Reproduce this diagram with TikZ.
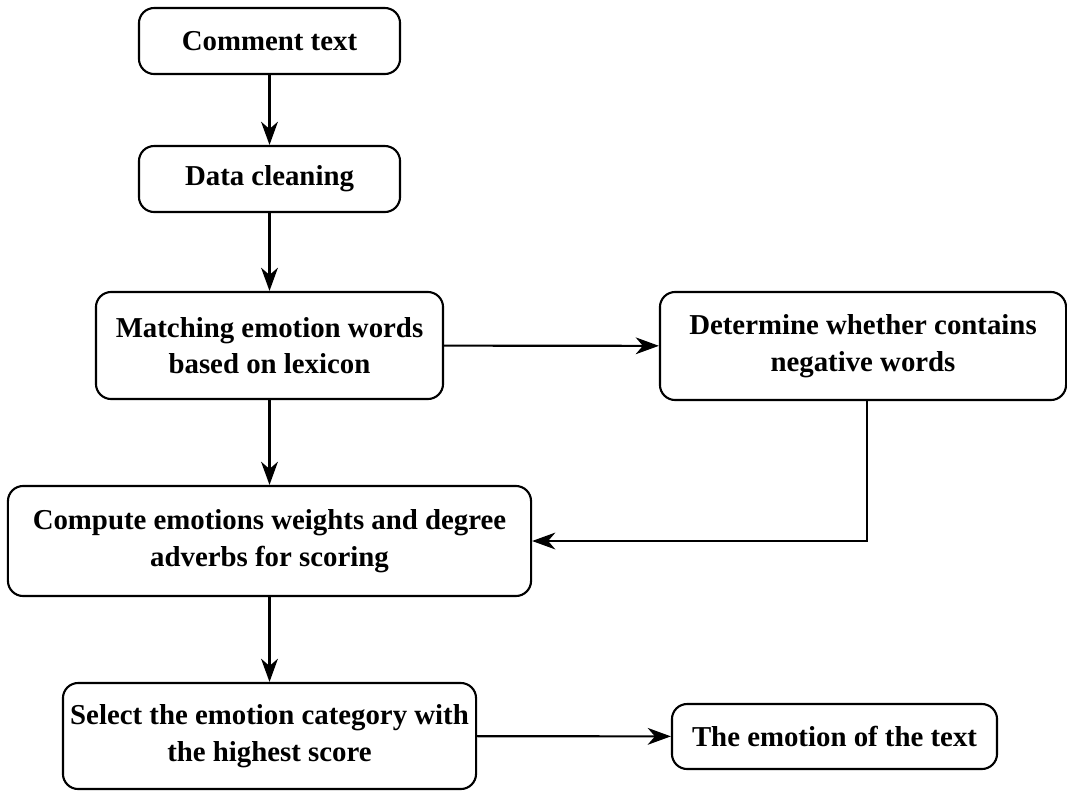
\documentclass[tikz,border=0pt]{standalone}
\usepackage{fontspec}
\setmainfont{Liberation Serif}
\usetikzlibrary{arrows.meta}

\begin{document}
\begin{tikzpicture}[x=0.025cm, y=-0.025cm,
        box/.style={draw, line width=1.5pt, rounded corners=0.38cm, align=center, inner sep=0pt,
            font=\fontsize{20.5}{26}\selectfont\bfseries},
        arr/.style={line width=1.5pt, -{Stealth[length=5.8mm, width=4.2mm, inset=1.8mm]}}]
                \useasboundingbox (0,0) rectangle (1067,791);
                \node[box, minimum width=6.525cm, minimum height=1.65cm] (comment) at (269.5,41) {Comment text};
                \node[box, minimum width=6.525cm, minimum height=1.65cm] (clean) at (269.5,179) {Data cleaning};
                \node[box, minimum width=8.675cm, minimum height=2.675cm] (match) at (269.5,345.5) {Matching emotion words\\based on lexicon};
                \node[box, minimum width=10.15cm, minimum height=2.7cm] (neg) at (863,346) {Determine whether contains\\negative words};
                \node[box, minimum width=13.075cm, minimum height=2.75cm] (score) at (269.5,541) {Compute emotions weights and degree\\adverbs for scoring};
                \node[box, minimum width=10.325cm, minimum height=2.65cm] (select) at (269.5,736) {Select the emotion category with\\the highest score};
                \node[box, minimum width=8.125cm, minimum height=1.625cm] (result) at (834.5,736.5) {The emotion of the text};
                \draw[arr] (comment) -- (clean);
                \draw[arr] (clean) -- (match);
                \draw[arr] (match) -- (neg);
                \draw[arr] (match) -- (score);
                \draw[arr] ([xshift=0.1cm]neg.south) |- (score.east);
                \draw[arr] (score) -- (select);
                \draw[arr] (select) -- (result);
            \end{tikzpicture}
\end{document}
